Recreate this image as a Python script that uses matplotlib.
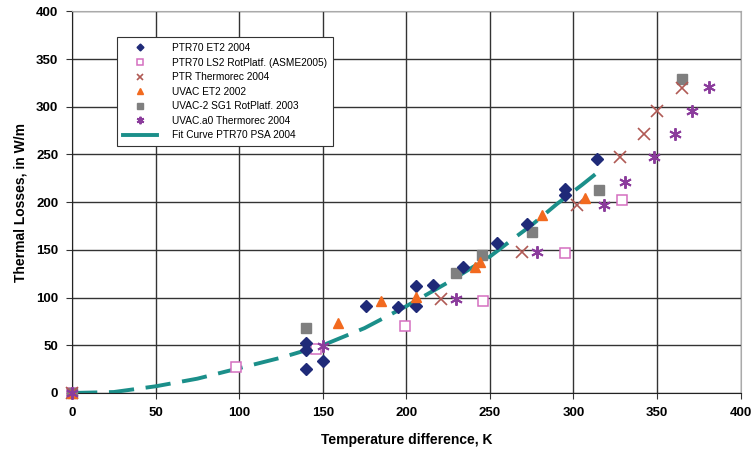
import numpy as np
import matplotlib
matplotlib.use("Agg")
from matplotlib import pyplot as plt

matplotlib.rcParams['font.family'] = ['Liberation Sans', 'DejaVu Sans']

# PTR70 ET2 2004
ptr70_et2_x = [140, 140, 140, 150, 176, 195, 206, 206, 216, 234, 254, 272, 295, 295, 314]
ptr70_et2_y = [25, 45, 52, 34, 91, 90, 91, 112, 113, 132, 157, 177, 208, 214, 245]

# PTR70 LS2 RotPlatf. (ASME2005)
ptr70_ls2_x = [0, 98, 146, 199, 246, 295, 329]
ptr70_ls2_y = [0, 27, 46, 70, 96, 147, 202]

# PTR Thermorec 2004
ptr_thermo_x = [0, 221, 269, 302, 328, 342, 350, 365]
ptr_thermo_y = [0, 99, 148, 197, 247, 271, 296, 320]

# UVAC ET2 2002
uvac_et2_x = [0, 159, 185, 206, 241, 244, 281, 307]
uvac_et2_y = [0, 73, 96, 101, 132, 137, 187, 204]

# UVAC-2 SG1 RotPlatf. 2003
uvac2_x = [0, 140, 230, 245, 275, 315, 365]
uvac2_y = [0, 68, 126, 145, 169, 213, 329]

# UVAC.a0 Thermorec 2004
uvac_a0_x = [0, 150, 230, 278, 318, 331, 348, 361, 371, 381]
uvac_a0_y = [0, 49, 98, 148, 197, 221, 247, 271, 296, 321]

# Fit Curve PTR70 PSA 2004
fit_x = [0, 25, 50, 75, 100, 125, 150, 175, 200, 225, 250, 265, 275, 290, 305, 315]
fit_y = [0, 1, 7, 15, 26, 37, 50, 68, 91, 116, 143, 163, 176, 198, 218, 232]

fig = plt.figure(figsize=(7.55, 4.54), dpi=100)
ax = fig.add_axes([0.0954, 0.1344, 0.8856, 0.8406])

ax.plot(ptr70_et2_x, ptr70_et2_y, 'D', color='#1f2a78', ms=5.8, ls='none', clip_on=False, zorder=4,
        label='PTR70 ET2 2004')
ax.plot(ptr70_ls2_x, ptr70_ls2_y, 's', mfc='white', mec='#d46fc0', mew=1.1, ms=7.5, ls='none', clip_on=False,
        zorder=3, label='PTR70 LS2 RotPlatf. (ASME2005)')
ax.plot(ptr_thermo_x, ptr_thermo_y, 'x', color='#b05a55', ms=8, mew=1.2, ls='none', clip_on=False, zorder=4,
        label='PTR Thermorec 2004')
ax.plot(uvac_et2_x, uvac_et2_y, '^', color='#f26a1f', ms=7.5, ls='none', clip_on=False, zorder=4,
        label='UVAC ET2 2002')
ax.plot(uvac2_x, uvac2_y, 's', color='#7f7f7f', ms=7.5, ls='none', clip_on=False, zorder=3,
        label='UVAC-2 SG1 RotPlatf. 2003')
ax.plot(uvac_a0_x, uvac_a0_y, marker=(6, 2, 0), color='#8b3c9c', mec='#8b3c9c', ms=9, mew=1.4, ls='none',
        clip_on=False, zorder=5, label='UVAC.a0 Thermorec 2004')
ax.plot(fit_x, fit_y, color='#1b8f8a', lw=2.8, dashes=(6.5, 3), zorder=2, label='Fit Curve PTR70 PSA 2004')

ax.set_xlim(0, 400)
ax.set_ylim(0, 400)
ax.set_xticks(np.arange(0, 401, 50))
ax.set_yticks(np.arange(0, 401, 50))
ax.grid(True, color='#333333', lw=1.0)
ax.set_axisbelow(True)
for lab in ax.get_xticklabels() + ax.get_yticklabels():
    lab.set_fontweight('bold')
    lab.set_fontsize(9.5)
ax.tick_params(axis='both', length=4, color='#333333', pad=6)
for s in ['top', 'right']:
    ax.spines[s].set_color('#aaaaaa')
for s in ['left', 'bottom']:
    ax.spines[s].set_color('#222222')

ax.set_xlabel('Temperature difference, K', fontsize=10, fontweight='bold', labelpad=10)
ax.set_ylabel('Thermal Losses, in W/m', fontsize=10, fontweight='bold', labelpad=6)

leg = ax.legend(loc='upper left', bbox_to_anchor=(0.06, 0.945), fontsize=7.3, frameon=True, fancybox=False,
                edgecolor='#333333', framealpha=1, handlelength=3.4, borderpad=0.55, labelspacing=0.45,
                handletextpad=1.5, markerscale=0.6)
leg.get_frame().set_linewidth(0.8)
leg.get_lines()[-1].set_linestyle('-')

fig.savefig('out.png', dpi=100)
